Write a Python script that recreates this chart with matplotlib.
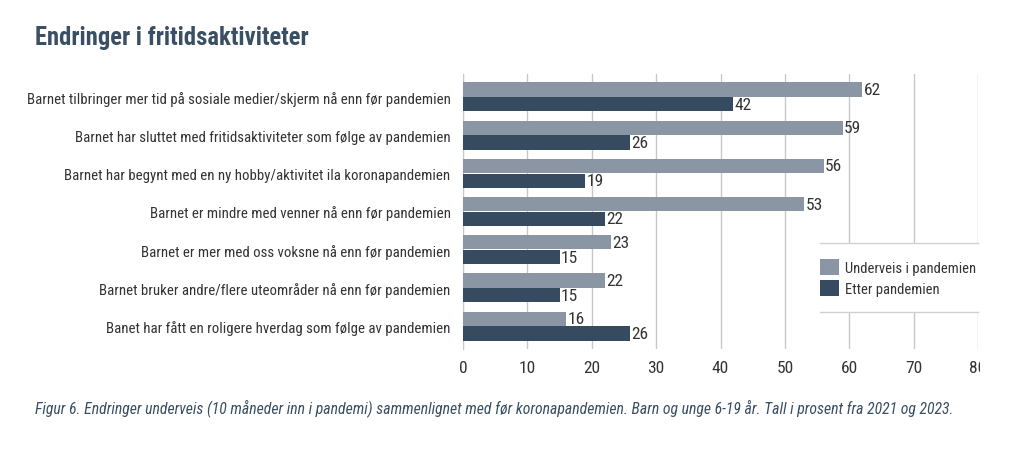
import matplotlib
matplotlib.use("Agg")
import matplotlib.pyplot as plt
from matplotlib import font_manager as fm
import numpy as np
from matplotlib.patches import Rectangle
from matplotlib.lines import Line2D

categories = [
    "Barnet tilbringer mer tid på sosiale medier/skjerm nå enn før pandemien",
    "Barnet har sluttet med fritidsaktiviteter som følge av pandemien",
    "Barnet har begynt med en ny hobby/aktivitet ila koronapandemien",
    "Barnet er mindre med venner nå enn før pandemien",
    "Barnet er mer med oss voksne nå enn før pandemien",
    "Barnet bruker andre/flere uteområder nå enn før pandemien",
    "Banet har fått en roligere hverdag som følge av pandemien",
]
underveis = [62, 59, 56, 53, 23, 22, 16]
etter = [42, 26, 19, 22, 15, 15, 26]
series_names = ["Underveis i pandemien", "Etter pandemien"]
xticks = [0, 10, 20, 30, 40, 50, 60, 70, 80]

names = {f.name for f in fm.fontManager.ttflist}
fam = 'Roboto Condensed' if 'Roboto Condensed' in names else 'Liberation Sans'
plt.rcParams['font.family'] = [fam, 'DejaVu Sans']

c_gray = "#8A96A3"
c_dark = "#364B5F"
c_text = "#333333"
c_title = "#3A4F63"

fig = plt.figure(figsize=(10.24, 4.52), dpi=100)
ax = fig.add_axes([463/1024, 1 - 350/452, (978-463)/1024, 275/452])

y = np.arange(len(categories))
h = 0.37
b1 = ax.barh(y - h/2 - 0.01, underveis, height=h, color=c_gray, label=series_names[0], zorder=3)
b2 = ax.barh(y + h/2 + 0.01, etter, height=h, color=c_dark, label=series_names[1], zorder=3)
for bars, vals in ((b1, underveis), (b2, etter)):
    for rect, v in zip(bars, vals):
        ax.text(v + 0.2, rect.get_y() + rect.get_height()/2, str(v), va='center', ha='left',
                fontsize=12.5, color=c_text, zorder=4)

ax.set_ylim(len(categories) - 0.5 + 0.1, -0.5 - 0.1)
ax.set_xlim(0, 80)
ax.set_xticks(xticks)
ax.set_xticklabels([str(t) for t in xticks], fontsize=12.5, color=c_text)
ax.set_yticks(y)
ax.set_yticklabels(categories, fontsize=10.7, color=c_text)
ax.tick_params(axis='both', length=0)
ax.tick_params(axis='y', pad=9)
ax.tick_params(axis='x', pad=8)
ax.xaxis.grid(True, color="#C8C8C8", linewidth=1, zorder=0)
for s in ['top', 'right', 'bottom']:
    ax.spines[s].set_visible(False)
ax.spines['left'].set_color("#C8C8C8")

ax.add_patch(Rectangle((0.693, 0.135), 0.307, 0.25, transform=ax.transAxes,
                       facecolor='white', edgecolor='none', zorder=4.5, clip_on=False))
leg = ax.legend(loc='center left', bbox_to_anchor=(0.693, 0.26),
                fontsize=10.5, frameon=False, borderaxespad=0,
                handlelength=1.3, handleheight=1.3, handletextpad=0.45, labelspacing=0.35,
                borderpad=0.0)
leg.set_zorder(5)
for t in leg.get_texts():
    t.set_color(c_text)
for yy in (0.385, 0.135):
    ax.add_line(Line2D([0.693, 1.0], [yy, yy], transform=ax.transAxes, color="#D0D0D0",
                       linewidth=1, zorder=6, clip_on=False))

fig.text(35/1024, 1 - 38/452, "Endringer i fritidsaktiviteter", fontsize=17.7, fontweight='bold',
         color=c_title, va='center', ha='left')
fig.text(35/1024, 1 - 408/452,
         "Figur 6. Endringer underveis (10 måneder inn i pandemi) sammenlignet med før koronapandemien. Barn og unge 6-19 år. Tall i prosent fra 2021 og 2023.",
         fontsize=11.3, style='italic', color=c_title, va='center', ha='left')

fig.add_artist(Rectangle((980/1024, 0), 44/1024, 1, transform=fig.transFigure,
                         facecolor='white', edgecolor='none', zorder=10))

fig.savefig("out.png", dpi=100, facecolor='white')
